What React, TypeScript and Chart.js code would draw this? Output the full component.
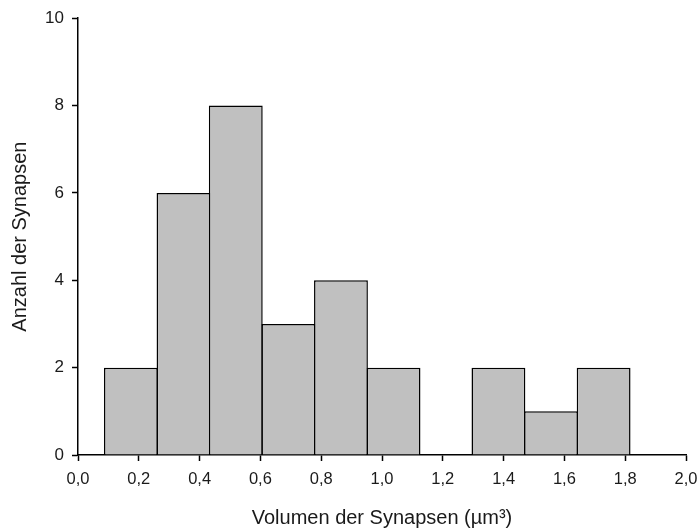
import React, { useEffect, useRef } from "react";
import { Chart, registerables } from "chart.js";

Chart.register(...registerables);

// Histogram bin centres (µm³) and counts
const binCenters = [0.174, 0.347, 0.519, 0.692, 0.865, 1.038, 1.21, 1.383, 1.556, 1.729];
const counts = [2, 6, 8, 3, 4, 2, 0, 2, 1, 2];

const xTitle = "Volumen der Synapsen (µm³)";
const yTitle = "Anzahl der Synapsen";

const FONT = "'Liberation Sans', Arial, sans-serif";
const TEXT = "#1a1a1a";

export default function App() {
  const ref = useRef<HTMLCanvasElement | null>(null);

  useEffect(() => {
    if (!ref.current) return;
    const chart = new Chart(ref.current, {
      type: "bar",
      data: {
        datasets: [
          {
            data: binCenters.map((x, i) => ({ x, y: counts[i] })),
            backgroundColor: "#c0c0c0",
            borderColor: "#000000",
            borderWidth: 1.5,
            barPercentage: 1.03,
            categoryPercentage: 1,
          },
        ],
      },
      options: {
        responsive: false,
        animation: false,
        layout: { padding: { top: 17, right: 12, left: 0, bottom: 0 } },
        plugins: { legend: { display: false }, tooltip: { enabled: false } },
        scales: {
          x: {
            type: "linear",
            min: 0,
            max: 2,
            offset: false,
            grid: {
              display: true,
              drawOnChartArea: false,
              drawTicks: true,
              tickLength: 6,
              tickWidth: 1.5,
              tickColor: "#000",
              offset: false,
            },
            border: { display: true, color: "#000", width: 1.5 },
            ticks: {
              stepSize: 0.2,
              color: TEXT,
              font: { family: FONT, size: 16.5 },
              padding: 9,
              callback: (v: any) => Number(v).toFixed(1).replace(".", ","),
            },
            title: {
              display: true,
              text: xTitle,
              color: TEXT,
              font: { family: FONT, size: 20 },
              padding: { top: 4, bottom: 1 },
            },
            afterFit: (s: any) => {
              s.height = 531 - 455;
              s.paddingLeft = 0;
              s.paddingRight = 0;
            },
          },
          y: {
            min: 0,
            max: 10,
            grid: {
              display: true,
              drawOnChartArea: false,
              drawTicks: true,
              tickLength: 6,
              tickWidth: 1.5,
              tickColor: "#000",
            },
            border: { display: true, color: "#000", width: 1.5 },
            ticks: {
              stepSize: 2,
              color: TEXT,
              font: { family: FONT, size: 17 },
              padding: 8,
            },
            title: {
              display: true,
              text: yTitle,
              color: TEXT,
              font: { family: FONT, size: 20 },
              padding: { top: 8, bottom: 4 },
            },
            afterFit: (s: any) => {
              s.width = 78;
            },
          },
        },
      },
    });
    return () => chart.destroy();
  }, []);

  return (
    <div style={{ position: "fixed", left: 0, top: 0, width: 698, height: 531, background: "#fff" }}>
      <canvas ref={ref} width={698} height={531} style={{ display: "block" }} />
    </div>
  );
}
